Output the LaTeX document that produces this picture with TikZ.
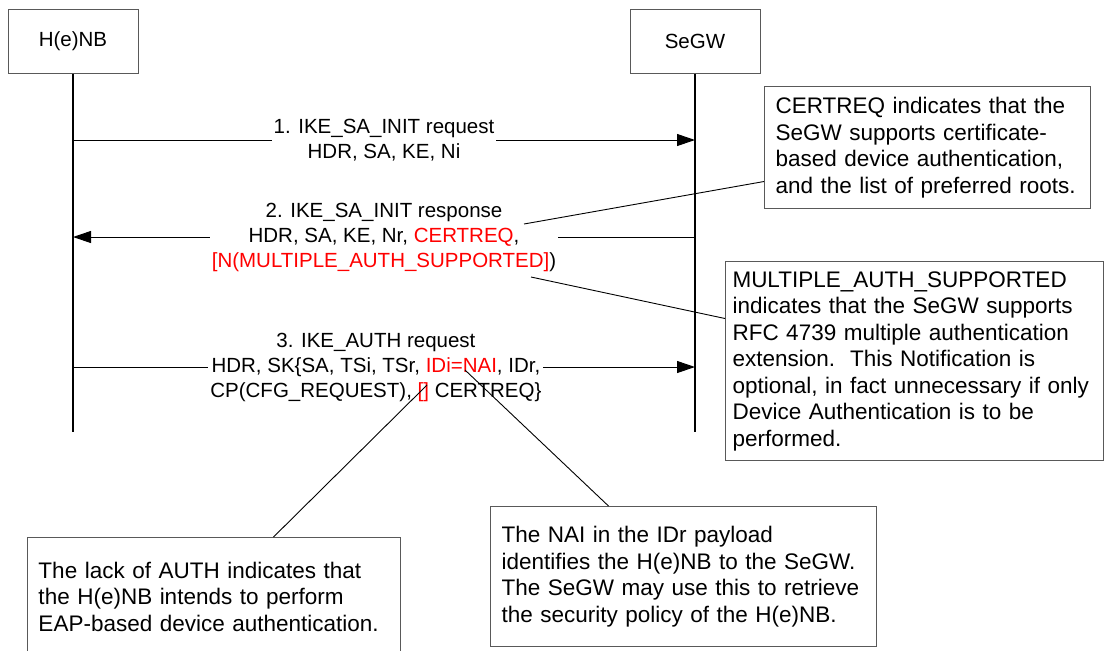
\documentclass[tikz,border=0pt]{standalone}
\usepackage{fontspec}
\setmainfont{Liberation Sans}
\usetikzlibrary{arrows.meta,calc}

\begin{document}
\begin{tikzpicture}[x=0.5pt,y=-0.5pt,
  entity/.style={draw=black!65,line width=0.5pt,minimum width=65pt,minimum height=32pt,font=\fontsize{10.25}{12.5}\selectfont},
  life/.style={line width=1pt},
  msg/.style={line width=0.5pt,-{Triangle[length=9pt,width=6pt]}},
  lbl/.style={fill=white,inner xsep=1pt,inner ysep=1pt,align=center,font=\fontsize{10.25}{12.5}\selectfont},
  note/.style={draw=black!65,line width=0.5pt,anchor=north west,align=left,inner xsep=5.5pt,font=\fontsize{11.25}{13.25}\selectfont},
  callout/.style={line width=0.45pt}]
\useasboundingbox (0,0) rectangle (1107,650);
\node[entity] (henb) at (73,41) {H(e)NB};
\node[entity] (segw) at (695,41) {SeGW};
\coordinate (henb-end) at (73,432);
\coordinate (segw-end) at (695,432);
\draw[life] (henb) -- (henb-end);
\draw[life] (segw) -- (segw-end);
\foreach \n/\y in {1/140,2/237,3/367} {
  \coordinate (h\n) at (73,\y);
  \coordinate (s\n) at (695,\y);
}
\draw[msg] (h1) -- node[lbl] (m1) {1. IKE\_SA\_INIT request\\HDR, SA, KE, Ni} (s1);
\draw[msg] (s2) -- node[lbl] (m2) {2. IKE\_SA\_INIT response\\HDR, SA, KE, Nr, \textcolor{red}{CERTREQ},\\\textcolor{red}{[N(MULTIPLE\_AUTH\_SUPPORTED]})} (h2);
\draw[msg] (h3) -- node[lbl,pos=0.487] (m3) {3. IKE\_AUTH request\\HDR, SK\{SA, TSi, TSr, \textcolor{red}{IDi=NAI}, IDr,\\CP(CFG\_REQUEST), \textcolor{red}{[]} CERTREQ\}} (s3);
\node[note,text width=152pt,minimum height=61pt] (certnote) at (764,86) {CERTREQ indicates that the\\SeGW supports certificate-\\based device authentication,\\and the list of preferred roots.};
\node[note,text width=182pt,inner xsep=3.5pt,minimum height=99.5pt] (manote) at (725,261) {MULTIPLE\_AUTH\_SUPPORTED\\indicates that the SeGW supports\\RFC 4739 multiple authentication\\extension.\ \ This Notification is\\optional, in fact unnecessary if only\\Device Authentication is to be\\performed.};
\node[note,text width=182pt,minimum height=70pt] (nainote) at (490,506) {The NAI in the IDr payload\\identifies the H(e)NB to the SeGW.\\The SeGW may use this to retrieve\\the security policy of the H(e)NB.};
\node[note,text width=175.5pt,minimum height=59pt] (authnote) at (27,537) {The lack of AUTH indicates that\\the H(e)NB intends to perform\\EAP-based device authentication.};
\coordinate (cq) at (524,224);
\coordinate (ma) at (531,277);
\coordinate (nai) at (465,370);
\coordinate (noauth) at (427,385);
\draw[callout] (cq) -- ([yshift=-17pt]certnote.west);
\draw[callout] (ma) -- ([yshift=21.25pt]manote.west);
\draw[callout] (nai) -- ([xshift=-37.5pt]nainote.north);
\draw[callout] (noauth) -- ([xshift=29.75pt]authnote.north);
\end{tikzpicture}
\end{document}
